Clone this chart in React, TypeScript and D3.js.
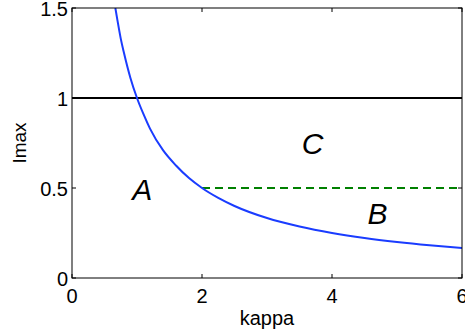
import React from 'react';
import * as d3 from 'd3';

// curve values
const kappa = [0.667, 0.7, 0.75, 0.8, 0.9, 1, 1.1, 1.2, 1.4, 1.6, 1.8, 2, 2.25, 2.5, 3, 3.5, 4, 4.5, 5, 5.5, 6];
const imax = [1.5, 1.43, 1.33, 1.25, 1.11, 1.0, 0.91, 0.83, 0.71, 0.625, 0.555, 0.5, 0.445, 0.4, 0.333, 0.286, 0.25, 0.222, 0.2, 0.182, 0.167];

const xTicks = [0, 2, 4, 6];
const yTicks = [0, 0.5, 1, 1.5];
const yTickLabels = ['0', '0.5', '1', '1.5'];

const blackLine = { y: 1, x0: 0, x1: 6 };
const greenLine = { y: 0.5, x0: 2, x1: 6 };

const regions = [
  { label: 'A', x: 1.08, y: 0.433 },
  { label: 'C', x: 3.7, y: 0.689 },
  { label: 'B', x: 4.7, y: 0.3 },
];

const W = 465, H = 335;
const margin = { top: 8, right: 3, bottom: 57, left: 72 };

export default function App() {
  const x = d3.scaleLinear().domain([0, 6]).range([margin.left, W - margin.right]);
  const y = d3.scaleLinear().domain([0, 1.5]).range([H - margin.bottom, margin.top]);

  const pts: [number, number][] = kappa.map((k, i) => [k, imax[i]]);
  const line = d3.line<[number, number]>()
    .x(d => x(d[0]))
    .y(d => y(d[1]))
    .curve(d3.curveMonotoneX);

  const font = 'Liberation Sans, Arial, Helvetica, sans-serif';
  const tl = 4;

  return (
    <svg width={W} height={H} style={{ position: 'absolute', left: 0, top: 0 }} fontFamily={font}>
      <rect x={0} y={0} width={W} height={H} fill='#fff' />
      <defs>
        <clipPath id='plot-clip'>
          <rect x={x(0)} y={y(1.5)} width={x(6) - x(0)} height={y(0) - y(1.5)} />
        </clipPath>
      </defs>

      {/* lines */}
      <g clipPath='url(#plot-clip)'>
        <line x1={x(blackLine.x0)} x2={x(blackLine.x1)} y1={y(blackLine.y)} y2={y(blackLine.y)}
          stroke='#000' strokeWidth={2} />
        <line x1={x(greenLine.x0)} x2={x(greenLine.x1)} y1={y(greenLine.y)} y2={y(greenLine.y)}
          stroke='#008000' strokeWidth={2} strokeDasharray='8,5' />
        <path d={line(pts) || ''} fill='none' stroke='#1a3cff' strokeWidth={2} />
      </g>

      {/* frame */}
      <rect x={x(0)} y={y(1.5)} width={x(6) - x(0)} height={y(0) - y(1.5)} fill='none' stroke='#000' strokeWidth={1} />

      {/* ticks */}
      {xTicks.map(t => (
        <g key={'x' + t}>
          <line x1={x(t)} x2={x(t)} y1={y(0)} y2={y(0) - tl} stroke='#000' />
          <line x1={x(t)} x2={x(t)} y1={y(1.5)} y2={y(1.5) + tl} stroke='#000' />
          <text x={x(t)} y={y(0) + 25} textAnchor='middle' fontSize={20}>{t}</text>
        </g>
      ))}
      {yTicks.map((t, i) => (
        <g key={'y' + t}>
          <line x1={x(0)} x2={x(0) + tl} y1={y(t)} y2={y(t)} stroke='#000' />
          <line x1={x(6)} x2={x(6) - tl} y1={y(t)} y2={y(t)} stroke='#000' />
          <text x={x(0) - 4} y={y(t) + 8} textAnchor='end' fontSize={20}>{yTickLabels[i]}</text>
        </g>
      ))}

      {/* axis labels */}
      <text x={(x(0) + x(6)) / 2} y={H - 10} textAnchor='middle' fontSize={20}>kappa</text>
      <text transform={`translate(${26},${(y(0) + y(1.5)) / 2}) rotate(-90)`} textAnchor='middle' fontSize={19}>Imax</text>

      {/* region letters */}
      {regions.map(r => (
        <text key={r.label} x={x(r.x)} y={y(r.y)} textAnchor='middle' fontSize={30} fontStyle='italic'>{r.label}</text>
      ))}
    </svg>
  );
}
